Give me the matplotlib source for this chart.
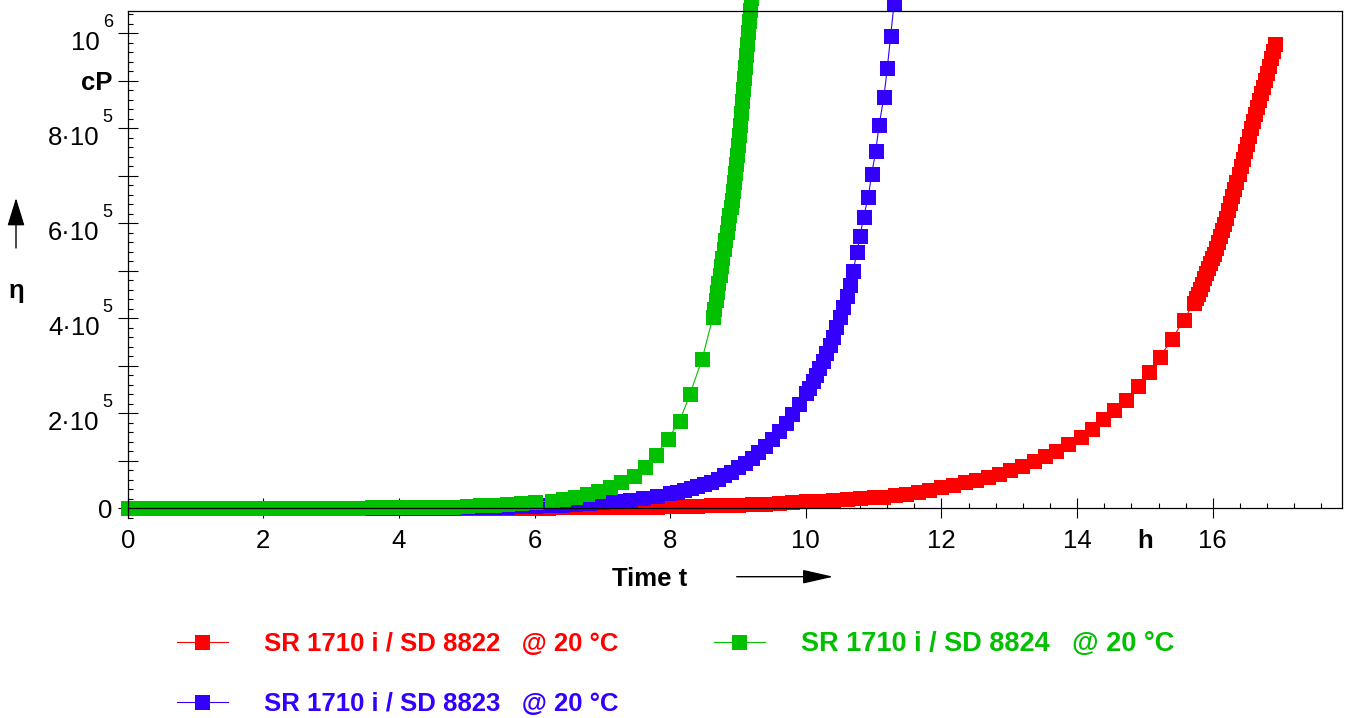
import matplotlib
matplotlib.use('Agg')
import matplotlib.pyplot as plt
from matplotlib.ticker import FixedLocator, MultipleLocator
from matplotlib.transforms import offset_copy

plt.rcParams['font.family'] = 'Liberation Sans'

# time in h, viscosity in kcP
red_t = [0.0, 0.2, 0.4, 0.6, 0.8, 1.0, 1.2, 1.4, 1.6, 1.8, 2.0, 2.2, 2.4, 2.6, 2.8, 3.0, 3.2, 3.4, 3.6, 3.8,
         4.0, 4.2, 4.4, 4.6, 4.8, 5.0, 5.2, 5.4, 5.6, 5.8, 6.0, 6.2, 6.4, 6.6, 6.8, 7.0, 7.2, 7.4, 7.6, 7.8,
         8.0, 8.2, 8.4, 8.6, 8.8, 9.0, 9.2, 9.4, 9.6, 9.8, 10.0, 10.2, 10.4, 10.6, 10.8, 11.0,
         11.14, 11.31, 11.48, 11.65, 11.82, 12.0, 12.17, 12.34, 12.51, 12.68, 12.85, 13.01, 13.18, 13.36,
         13.53, 13.69, 13.87, 14.05, 14.22, 14.38, 14.55, 14.72, 14.9, 15.06, 15.22, 15.40, 15.57,
         15.72, 15.75, 15.78, 15.81, 15.84, 15.87, 15.90, 15.93, 15.96, 15.99, 16.02, 16.05, 16.08, 16.11,
         16.14, 16.17, 16.20, 16.23, 16.26, 16.29, 16.32, 16.35, 16.38, 16.41, 16.44, 16.47, 16.50, 16.53,
         16.56, 16.59, 16.62, 16.65, 16.68, 16.71, 16.74, 16.77, 16.80, 16.83, 16.86, 16.89, 16.92]
red_eta = [0.3, 0.3, 0.3, 0.3, 0.3, 0.3, 0.3, 0.3, 0.3, 0.3, 0.3, 0.3, 0.3, 0.3, 0.3, 0.3, 0.3, 0.3, 0.3, 0.3,
           0.3, 0.4, 0.45, 0.5, 0.6, 0.8, 0.9, 1.0, 1.2, 1.3, 1.5, 1.7, 1.9, 2.1, 2.3, 2.6, 2.9, 3.2, 3.5, 3.8,
           4.2, 4.8, 5.4, 6.0, 6.8, 7.6, 8.6, 9.7, 11.0, 12.5, 14.5, 16.0, 17.5, 19.5, 21.5, 23.0,
           24.4, 27, 31, 34, 38.5, 44, 49, 54.7, 59.6, 65, 72, 80, 89.7, 99.6,
           110, 121, 135, 151, 168, 187, 207, 229, 257, 286, 319, 356, 396,
           432, 442, 452, 462, 473, 484, 495, 506, 516, 526, 536, 548, 560, 573,
           586, 599, 612, 627, 642, 657, 672, 688, 704, 720, 736, 752, 768, 784,
           800, 815, 830, 845, 860, 874, 888, 902, 917, 932, 947, 962, 977]

blue_t = [0.0, 0.2, 0.4, 0.6, 0.8, 1.0, 1.2, 1.4, 1.6, 1.8, 2.0, 2.2, 2.4, 2.6, 2.8, 3.0, 3.2, 3.4, 3.6, 3.8,
          4.0, 4.2, 4.4, 4.6, 4.8, 5.0, 5.2, 5.4, 5.6, 5.8, 6.0, 6.2, 6.4, 6.6, 6.8, 7.0, 7.2, 7.4, 7.6, 7.8,
          8.0, 8.1, 8.2, 8.3, 8.4, 8.5, 8.6, 8.7, 8.8, 8.9, 9.0, 9.1, 9.2, 9.3, 9.4, 9.5, 9.6, 9.7, 9.8, 9.9,
          10.0, 10.05, 10.1, 10.15, 10.2, 10.25, 10.3, 10.35, 10.4, 10.45, 10.5, 10.55, 10.6, 10.65, 10.7,
          10.75, 10.80, 10.85, 10.92, 10.97, 11.03, 11.08, 11.15, 11.20, 11.25, 11.30]
blue_eta = [1.0, 1.0, 1.0, 1.0, 1.0, 1.0, 1.0, 1.0, 1.0, 1.0, 1.0, 1.0, 1.0, 1.0, 1.0, 1.0, 1.0, 1.0, 1.0, 1.0,
            1.0, 1.1, 1.2, 1.4, 1.6, 2.0, 2.5, 3.0, 3.6, 4.3, 5.0, 6.0, 7.2, 8.6, 10.5, 12.5, 15, 18, 21.5, 26,
            31.5, 34.5, 38, 42, 46, 50.5, 56, 62.5, 69.5, 77.5, 86, 95.5, 106, 118, 131, 146, 162, 180, 199, 220,
            242, 254, 267, 281, 295, 310, 326, 343, 361, 381, 402, 424, 447, 471, 500,
            539, 573, 613, 655, 703, 752, 807, 865, 926, 994, 1062]

green_t = [0.0, 0.2, 0.4, 0.6, 0.8, 1.0, 1.2, 1.4, 1.6, 1.8, 2.0, 2.2, 2.4, 2.6, 2.8, 3.0, 3.2, 3.4, 3.6, 3.8,
           4.0, 4.2, 4.4, 4.6, 4.8, 5.0, 5.2, 5.4, 5.6, 5.8, 6.0,
           6.25, 6.42, 6.59, 6.77, 6.94, 7.11, 7.28, 7.46, 7.63, 7.79, 7.96, 8.14, 8.29, 8.47,
           8.63, 8.65, 8.67, 8.69, 8.71, 8.73, 8.75, 8.77, 8.79, 8.81, 8.83, 8.85, 8.87, 8.89, 8.91,
           8.925, 8.94, 8.955, 8.97, 8.985, 9.00, 9.015, 9.03, 9.045, 9.06, 9.075, 9.09, 9.105, 9.12,
           9.135, 9.15, 9.165, 9.18, 9.195, 9.21]
green_eta = [1.5, 1.5, 1.5, 1.5, 1.5, 1.5, 1.5, 1.5, 1.5, 1.5, 1.5, 1.5, 1.5, 1.5, 1.5, 1.5, 1.5, 1.5, 3.0, 3.0,
             3.0, 3.2, 3.3, 3.5, 3.8, 5.5, 6.5, 7.5, 9.5, 11.0, 13.0,
             15.4, 19, 24.4, 30, 37, 45.5, 56, 69, 87.6, 113, 145, 184, 240, 314,
             403, 420, 438, 456, 474, 492, 510, 528, 546, 564, 582, 600, 618, 634, 650,
             668, 686, 705, 724, 744, 764, 785, 808, 832, 858, 882, 906, 930, 954,
             978, 1002, 1026, 1050, 1074, 1098]

labels = ['SR 1710 i / SD 8822   @ 20 °C',
          'SR 1710 i / SD 8823   @ 20 °C',
          'SR 1710 i / SD 8824   @ 20 °C']
colors = ['#ff0000', '#3300ff', '#00c000']

x_ticks = [0, 2, 4, 6, 8, 10, 12, 14, 16]
y_ticks = [0, 1e5, 2e5, 3e5, 4e5, 5e5, 6e5, 7e5, 8e5, 9e5, 1e6]
y_label_pos = [0, 2e5, 4e5, 6e5, 8e5, 9e5, 1e6]
y_mant = ['0', '2·10', '4·10', '6·10', '8·10', 'cP', '10']
y_exp = ['', '5', '5', '5', '5', '', '6']

FS = 18.5

fig = plt.figure(figsize=(13.47, 7.18), dpi=100)
ax = fig.add_axes([0.0948, 0.2788, 0.9012, 0.7063])

series = [(red_t, red_eta), (blue_t, blue_eta), (green_t, green_eta)]
handles = []
for (t, eta), c, lab in zip(series, colors, labels):
    h, = ax.plot(t, [v * 1000 for v in eta], color=c, lw=0.8, marker='s', ms=10.8,
                 mec=c, mew=0, label=lab, clip_on=False)
    handles.append(h)

ax.set_xlim(0, 17.9)
ax.set_ylim(-2e4, 1.0476e6)
ax.spines['bottom'].set_position(('data', 0))
ax.spines['right'].set_bounds(0, 1.0476e6)
for s in ax.spines.values():
    s.set_linewidth(0.9)

ax.xaxis.set_major_locator(FixedLocator(x_ticks))
ax.set_xticklabels([str(v) for v in x_ticks])
ax.xaxis.set_minor_locator(MultipleLocator(0.4))
ax.yaxis.set_major_locator(FixedLocator(y_ticks))
ax.yaxis.set_minor_locator(MultipleLocator(20000))

ax.tick_params(axis='both', which='major', direction='inout', length=14.5, width=0.8,
               labelsize=FS, pad=7.5)
ax.tick_params(axis='both', which='minor', direction='in', length=3.4, width=0.8)
ax.tick_params(axis='y', labelleft=False)

# y labels: mantissa plus raised exponent, like the original software draws them
ytr = ax.get_yaxis_transform()
for v, m, e in zip(y_label_pos, y_mant, y_exp):
    if e:
        ax.text(0, v, m, transform=offset_copy(ytr, fig=fig, x=-28, y=-17, units='dots'),
                ha='right', va='baseline', fontsize=FS)
        ax.text(0, v, e, transform=offset_copy(ytr, fig=fig, x=-25, y=6, units='dots'),
                ha='left', va='baseline', fontsize=13)
    else:
        ax.text(0, v, m, transform=offset_copy(ytr, fig=fig, x=-15, y=0, units='dots'),
                ha='right', va='center_baseline', fontsize=FS,
                fontweight='bold' if m == 'cP' else 'normal')

ax.annotate('h', xy=(15, 0), xycoords='data', xytext=(0, -15), textcoords='offset points',
            ha='center', va='top', fontsize=FS, fontweight='bold')

fig.text(611.7 / 1347, 1 - 585.5 / 718, 'Time t', fontsize=FS, fontweight='bold',
         ha='left', va='baseline')
fig.text(16.5 / 1347, 1 - 298 / 718, 'η', fontsize=FS, fontweight='bold',
         ha='center', va='baseline')

ax.annotate('', xy=(833.3 / 1347, 1 - 576.7 / 718), xytext=(736.7 / 1347, 1 - 576.7 / 718),
            xycoords='figure fraction', textcoords='figure fraction',
            arrowprops=dict(arrowstyle='-|>,head_length=1.9,head_width=0.43', color='black',
                            lw=1, shrinkA=0, shrinkB=0, mutation_scale=10))
ax.annotate('', xy=(16 / 1347, 1 - 198 / 718), xytext=(16 / 1347, 1 - 248 / 718),
            xycoords='figure fraction', textcoords='figure fraction',
            arrowprops=dict(arrowstyle='-|>,head_length=1.75,head_width=0.54', color='black',
                            lw=1, shrinkA=0, shrinkB=0, mutation_scale=10))

leg = fig.legend(handles, labels, loc='upper left', bbox_to_anchor=(176.7 / 1347, 1 - 631 / 718),
                 ncol=2, frameon=False, prop=dict(weight='bold', size=FS), labelcolor='linecolor',
                 handlelength=2.0, handletextpad=1.4, columnspacing=3.7, labelspacing=1.4,
                 borderpad=0, borderaxespad=0, numpoints=1)
# the green entry is drawn a little larger in the original
leg.get_texts()[2].set_fontsize(19.5)

fig.savefig('out.png', dpi=100)
